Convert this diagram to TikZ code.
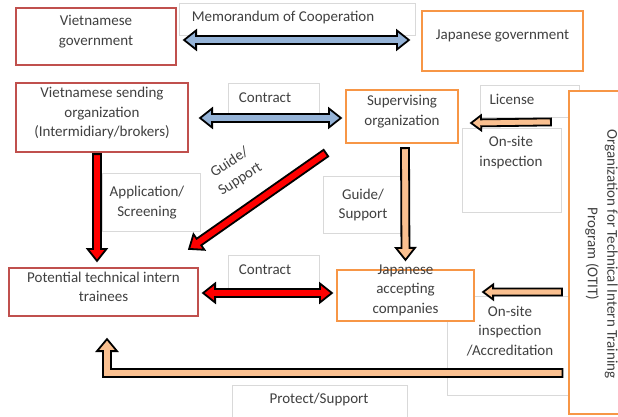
\documentclass[tikz,border=0pt]{standalone}
\usepackage{fontspec}
\setmainfont{Carlito}
\usetikzlibrary{calc, positioning}
\definecolor{vnred}{HTML}{C0504D}
\definecolor{jporange}{HTML}{F79646}
\definecolor{coopblue}{HTML}{95B3D7}
\definecolor{peach}{HTML}{FAC090}
\definecolor{txtgray}{HTML}{404040}
\definecolor{lightline}{HTML}{D9D9D9}

% block arrow sizes (half shaft, half head, head length)
\def\shaft{4}
\def\head{9.5}
\def\headlen{12}

% block arrow: #2 tail, #3 tip
\newcommand{\blockarrow}[3][]{%
  \draw[#1] let \p1=($(#3)-(#2)$), \n1={atan2(\y1,\x1)}, \n2={veclen(\x1,\y1)-\headlen} in
    ($(#2)+({\n1+90}:\shaft)$) -- ($(#2)+(\n1:\n2)+({\n1+90}:\shaft)$)
    -- ($(#2)+(\n1:\n2)+({\n1+90}:\head)$) -- (#3)
    -- ($(#2)+(\n1:\n2)+({\n1-90}:\head)$) -- ($(#2)+(\n1:\n2)+({\n1-90}:\shaft)$)
    -- ($(#2)+({\n1-90}:\shaft)$) -- cycle;}

% block arrow with a head at both ends
\newcommand{\dblarrow}[3][]{%
  \draw[#1] let \p1=($(#3)-(#2)$), \n1={atan2(\y1,\x1)}, \n2={veclen(\x1,\y1)-\headlen} in
    (#2) -- ($(#2)+(\n1:\headlen)+({\n1+90}:\head)$) -- ($(#2)+(\n1:\headlen)+({\n1+90}:\shaft)$)
    -- ($(#2)+(\n1:\n2)+({\n1+90}:\shaft)$) -- ($(#2)+(\n1:\n2)+({\n1+90}:\head)$) -- (#3)
    -- ($(#2)+(\n1:\n2)+({\n1-90}:\head)$) -- ($(#2)+(\n1:\n2)+({\n1-90}:\shaft)$)
    -- ($(#2)+(\n1:\headlen)+({\n1-90}:\shaft)$) -- ($(#2)+(\n1:\headlen)+({\n1-90}:\head)$) -- cycle;}

\begin{document}
\begin{tikzpicture}[x=1pt, y=1pt, font=\fontsize{15}{19.5}\selectfont,
    ent/.style={draw=#1, line width=2.2pt, fill=white, inner sep=0pt},
    etext/.style={align=center, text=txtgray, inner sep=0pt, yshift=5pt},
    lbox/.style={draw=lightline, fill=white, line width=0.7pt},
    ltext/.style={align=center, text=txtgray, inner sep=0pt},
    fat/.style={draw=black, line width=1.8pt, line join=miter, fill=#1}]
  \useasboundingbox[fill=white] (0,0) rectangle (618,-416);

  % text boxes of the relations
  \foreach \xa/\ya/\xb/\yb in {179/3/415/35, 228/83/319/117, 480/85/579/117, 462/128/561/212,
      102/173/200/231, 323/176/405/233, 228/255/319/288, 447/296/570/395, 232/385/407/425}
    \draw[lbox] (\xa,-\ya) rectangle (\xb,-\yb);
  \node[ltext] (memo) at (283,-17) {Memorandum of Cooperation};
  \node[ltext] (contractA) at (265,-98) {Contract};
  \node[ltext] (license) at (512,-99) {License};
  \node[ltext] (onsiteA) at (511,-152.5) {On-site\\inspection};
  \node[ltext] (appl) at (147,-202.5) {Application/\\Screening};
  \node[ltext, rotate=33] (guideA) at (235,-171) {Guide/\\Support};
  \node[ltext] (guideB) at (363,-205) {Guide/\\Support};
  \node[ltext] (contractB) at (265,-270) {Contract};
  \node[ltext] (onsiteB) at (510,-331) {On-site\\inspection\\/Accreditation};
  \node[ltext] (protect) at (319,-399) {Protect/Support};

  % organizations
  \node[ent=vnred, minimum width=160pt, minimum height=57pt,
    label={[etext]center:Vietnamese\\government}] (vngov) at (96,-36.5) {};
  \node[ent=jporange, minimum width=161pt, minimum height=60pt,
    label={[etext]center:Japanese government}] (jpgov) at (502.5,-41) {};
  \node[ent=vnred, minimum width=172pt, minimum height=69pt,
    label={[etext, yshift=-0.5pt]center:Vietnamese sending\\organization\\(Intermidiary/brokers)}] (vnsend) at (102,-117.5) {};
  \node[ent=jporange, minimum width=112pt, minimum height=53pt,
    label={[etext]center:Supervising\\organization}] (superv) at (402,-116.5) {};
  \node[ent=vnred, minimum width=189pt, minimum height=48pt,
    label={[etext]center:Potential technical intern\\trainees}] (trainees) at (103.5,-292) {};
  \node[ent=jporange, minimum width=137pt, minimum height=51pt,
    label={[etext, yshift=0.5pt]center:Japanese\\accepting\\companies}] (jpacc) at (405.5,-295.5) {};
  \node[ent=jporange, minimum width=53pt, minimum height=323pt] (otit) at (595.5,-252.5) {};
  \node[ltext, rotate=-90] (otit-t) at ($(otit.center)+(6,-1.5)$)
    {Organization for Technical Intern Training\\Program (OTIT)};

  % arrow ends
  \coordinate (memoL) at ($(vngov.east)+(7,-3.5)$);
  \coordinate (memoR) at ($(jpgov.west)+(-12,1)$);
  \coordinate (conAL) at ($(vnsend.east)+(11,-0.5)$);
  \coordinate (conAR) at ($(superv.west)+(-4,-1.5)$);
  \coordinate (licS) at ($(otit.north west)+(-17,-32)$);
  \coordinate (licT) at ($(superv.east)+(12,-6.5)$);
  \coordinate (applS) at ($(vnsend.south)+(-5,-1)$);
  \coordinate (applT) at ($(trainees.north)+(-6.5,6)$);
  \coordinate (guideAS) at ($(superv.south west)+(-19,-9)$);
  \coordinate (guideAT) at ($(trainees.north east)+(-10,18)$);
  \coordinate (guideBS) at ($(superv.south)+(3,-4)$);
  \coordinate (guideBT) at ($(jpacc.north)+(0,9)$);
  \coordinate (conBL) at ($(trainees.east)+(4,-1)$);
  \coordinate (conBR) at ($(jpacc.west)+(-4,2.5)$);
  \coordinate (insS) at ($(otit.west |- jpacc.east)+(-6,3.5)$);
  \coordinate (insT) at ($(jpacc.east)+(8,3.5)$);
  \coordinate (protS) at ($(otit.west)+(-5.5,-120.5)$);
  \coordinate (protT) at ($(trainees.south)+(3.5,-22)$);

  \dblarrow[fat=coopblue]{memoL}{memoR}
  \dblarrow[fat=coopblue]{conAL}{conAR}
  \blockarrow[fat=red]{applS}{applT}
  \blockarrow[fat=red]{guideAS}{guideAT}
  \blockarrow[fat=peach]{guideBS}{guideBT}
  \dblarrow[fat=red]{conBL}{conBR}
  {\def\shaft{3.5}\def\head{7.5}\def\headlen{10}
  \blockarrow[fat=peach]{licS}{licT}
  \blockarrow[fat=peach]{insS}{insT}}
  % OTIT -> trainees, bent
  \draw[fat=peach] let \p1=(protS), \p2=(protT) in
    (\x1,{\y1+4pt}) -- ({\x2+4pt},{\y1+4pt}) -- ({\x2+4pt},{\y2-12pt}) -- ({\x2+10pt},{\y2-12pt})
    -- (protT) -- ({\x2-10pt},{\y2-12pt}) -- ({\x2-4pt},{\y2-12pt}) -- ({\x2-4pt},{\y1-4pt})
    -- (\x1,{\y1-4pt}) -- cycle;
\end{tikzpicture}
\end{document}
